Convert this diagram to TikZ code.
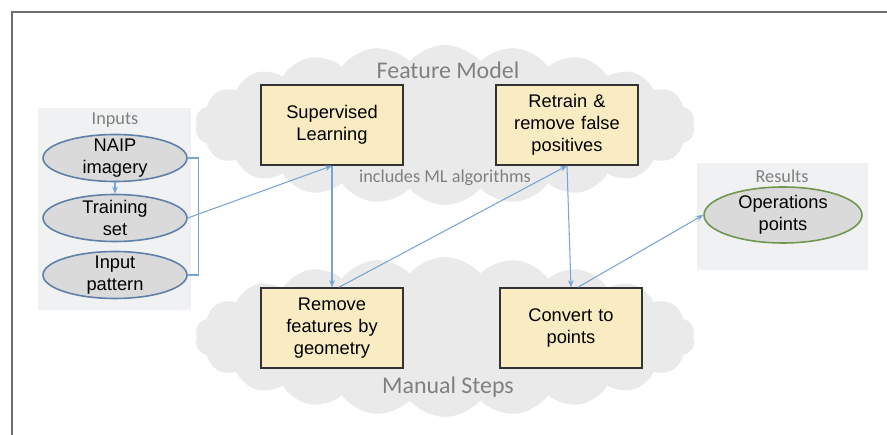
\documentclass[tikz,border=0pt]{standalone}
\usepackage{fontspec}
\setmainfont{Liberation Sans}
\newfontfamily\calibri{Carlito}
\usetikzlibrary{shapes.geometric,shapes.symbols,arrows.meta}

\definecolor{boxfill}{RGB}{250,236,194}
\definecolor{ellfill}{RGB}{218,218,218}
\definecolor{ellblue}{RGB}{96,128,168}
\definecolor{ellgreen}{RGB}{112,150,80}
\definecolor{arrowblue}{RGB}{120,164,214}
\definecolor{panelgray}{RGB}{240,241,242}
\definecolor{cloudgray}{RGB}{234,234,234}
\definecolor{labelgray}{RGB}{128,128,128}
\definecolor{framegray}{RGB}{110,110,110}

\newcommand{\boxfont}{\fontsize{10.4}{12.5}\selectfont}

\tikzset{
  stepbox/.style={draw=black!80, line width=0.9pt, fill=boxfill,
    minimum width=2.8cm, minimum height=1.6cm, text width=2.6cm,
    align=center, font=\boxfont},
  inputell/.style={ellipse, draw=ellblue, line width=0.9pt, fill=ellfill,
    minimum width=2.88cm, minimum height=0.94cm, inner sep=0pt},
  resultell/.style={inputell, draw=ellgreen, minimum width=3.16cm, minimum height=1.12cm},
  elllabel/.style={align=center, font=\boxfont, inner sep=0pt},
  panel/.style={fill=panelgray, draw=none},
  cloudbg/.style={cloud, cloud puffs=22, cloud puff arc=100, aspect=3.2,
    fill=cloudgray, draw=none, minimum width=10cm, minimum height=3.2cm, inner sep=0pt},
  grouplabel/.style={text=labelgray, font=\calibri\fontsize{10.4}{12}\selectfont},
  cloudlabel/.style={text=labelgray, font=\calibri\fontsize{13.6}{15}\selectfont},
  flow/.style={draw=arrowblue, line width=0.6pt, -{Stealth[length=4pt,width=3.2pt]}},
  link/.style={draw=arrowblue, line width=0.6pt}
}

\begin{document}
\begin{tikzpicture}[x=0.02cm, y=-0.02cm]
    \useasboundingbox (0,0) rectangle (887,435);

    % Frame
    \draw[framegray, line width=1pt] (12,450) -- (12,12) -- (900,12);

    % Clouds
    \node[cloudbg] (featcloud) at (445,125) {};
    \node[cloudbg] (manualcloud) at (445,337) {};
    \node[cloudlabel] (featlabel) at (448,70) {Feature Model};
    \node[cloudlabel] (manuallabel) at (448,387) {Manual Steps};
    \node[grouplabel] (mllabel) at (445,178) {includes ML algorithms};

    % Panels
    \fill[panel] (38,108) rectangle (191,310);
    \fill[panel] (697,163) rectangle (868,270);
    \node[grouplabel] (inputslabel) at (115,120) {Inputs};
    \node[grouplabel] (resultslabel) at (782,176) {Results};

    % Inputs
    \node[inputell, label={[elllabel]center:NAIP\\imagery}] (naip) at (115,158) {};
    \node[inputell, label={[elllabel]center:Training\\set}] (train) at (115,218) {};
    \node[inputell, label={[elllabel]center:Input\\pattern}] (pattern) at (115,275) {};

    % Steps
    \node[stepbox] (superv) at (332,125) {Supervised\\Learning};
    \node[stepbox] (retrain) at (567,125) {Retrain \&\\remove false\\positives};
    \node[stepbox] (remove) at (332,328) {Remove\\features by\\geometry};
    \node[stepbox] (convert) at (571,328) {Convert to\\points};

    % Result
    \node[resultell, label={[elllabel]center:Operations\\points}] (ops) at (783,215) {};

    % Connectors
    \draw[flow] (naip) -- (train);
    \draw[link] (naip.east) -- ++(11,0) |- (pattern.east);
    \draw[flow] (train.east) -- (superv.south);
    \draw[flow] (superv.south) -- (remove.north);
    \draw[flow] ([xshift=4pt]remove.north) -- (retrain.south);
    \draw[flow] (retrain.south) -- (convert.north);
    \draw[flow] ([xshift=4pt]convert.north) -- (ops.west);
\end{tikzpicture}
\end{document}
